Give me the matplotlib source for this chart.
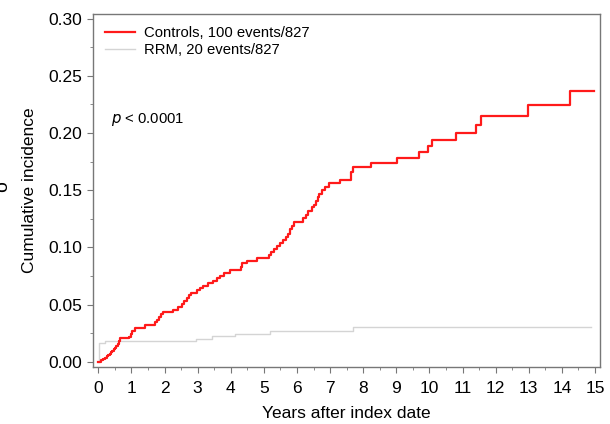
import numpy as np
import matplotlib
matplotlib.use('Agg')
import matplotlib.pyplot as plt
from matplotlib.ticker import MultipleLocator

plt.rcParams['font.family'] = ['Liberation Sans', 'DejaVu Sans']

# Controls: step times (years) and cumulative incidence after each step
ctrl_t = [0.0, 0.08, 0.15, 0.20, 0.25, 0.30, 0.34, 0.38, 0.42, 0.46, 0.50,
          0.54, 0.58, 0.62, 0.66, 0.93, 0.98, 1.03, 1.10, 1.42, 1.70, 1.76,
          1.82, 1.88, 1.95, 2.25, 2.42, 2.52, 2.58, 2.67, 2.73, 2.80, 2.97,
          3.08, 3.17, 3.32, 3.47, 3.58, 3.68, 3.80, 3.98, 4.30, 4.34, 4.50,
          4.80, 5.15, 5.20, 5.30, 5.40, 5.50, 5.58, 5.66, 5.72, 5.80, 5.85,
          5.90, 6.19, 6.28, 6.34, 6.45, 6.52, 6.58, 6.62, 6.65, 6.75, 6.85,
          6.98, 7.30, 7.62, 7.69, 8.22, 9.01, 9.67, 9.97, 10.07, 10.81, 11.40,
          11.56, 12.99, 14.25, 14.97]
ctrl_v = [0.0, 0.0012, 0.0024, 0.0036, 0.0048, 0.0060, 0.0072, 0.0085, 0.0097,
          0.0110, 0.0122, 0.0135, 0.0160, 0.0185, 0.0205, 0.0220, 0.0245, 0.0270,
          0.0300, 0.0325, 0.0345, 0.0370, 0.0395, 0.0420, 0.0440, 0.0455, 0.0480,
          0.0505, 0.0530, 0.0555, 0.0580, 0.0605, 0.0630, 0.0645, 0.0665, 0.0690,
          0.0710, 0.0735, 0.0750, 0.0775, 0.0805, 0.0830, 0.0860, 0.0885, 0.0910,
          0.0935, 0.0960, 0.0985, 0.1010, 0.1040, 0.1065, 0.1090, 0.1120, 0.1160,
          0.1190, 0.1225, 0.1255, 0.1285, 0.1320, 0.1350, 0.1375, 0.1410, 0.1445,
          0.1470, 0.1500, 0.1530, 0.1560, 0.1590, 0.1655, 0.1700, 0.1735, 0.1785,
          0.1830, 0.1888, 0.1943, 0.2004, 0.2074, 0.2147, 0.2243, 0.2367, 0.2367]

# RRM group
rrm_t = [0.0, 0.02, 0.20, 2.95, 3.43, 4.13, 5.17, 7.70, 14.88]
rrm_v = [0.0, 0.0165, 0.0182, 0.0203, 0.0224, 0.0244, 0.0266, 0.0302, 0.0302]

labels = ['Controls, 100 events/827', 'RRM, 20 events/827']

fig = plt.figure(figsize=(6.1, 4.24), dpi=100)
ax = fig.add_axes([0.1525, 0.1344, 0.8311, 0.8326])

ax.step(rrm_t, rrm_v, where='post', color='#d4d4d4', lw=1.0, label=labels[1])
ax.step(ctrl_t, ctrl_v, where='post', color='#ff1a1a', lw=1.6, label=labels[0])

ax.set_xlim(-0.16, 15.15)
ax.set_ylim(-0.0045, 0.304)
ax.set_xticks(range(0, 16))
ax.xaxis.set_minor_locator(MultipleLocator(0.5))
ax.set_yticks(np.arange(0, 0.31, 0.05))
ax.set_yticklabels([f'{v:.2f}' for v in np.arange(0, 0.31, 0.05)])
ax.yaxis.set_minor_locator(MultipleLocator(0.025))

for s in ax.spines.values():
    s.set_color('#777777')
    s.set_linewidth(1.0)
ax.tick_params(which='both', direction='out', colors='#777777', labelcolor='black',
               labelsize=12.5)
ax.tick_params(which='major', length=4)
ax.tick_params(axis='x', which='major', pad=6)
ax.tick_params(which='minor', length=2.5)

ax.set_xlabel('Years after index date', fontsize=12.5, labelpad=7)
ax.set_ylabel('Cumulative incidence', fontsize=12.5, labelpad=8)

handles, lbls = ax.get_legend_handles_labels()
ax.legend(handles[::-1], lbls[::-1], loc='upper left', frameon=False, fontsize=10.75,
          handlelength=2.0, handletextpad=0.6, labelspacing=0.2,
          borderaxespad=0.4, bbox_to_anchor=(0.0, 1.0))

ax.text(0.035, 0.70, r'$p$ < 0.0001', transform=ax.transAxes, fontsize=10.75,
        va='center', ha='left')

# clipped panel mark at the far left edge
fig.text(-0.009, 0.56, 'o', rotation=90, fontsize=14, va='center', ha='left')

fig.savefig('out.png', dpi=100)
